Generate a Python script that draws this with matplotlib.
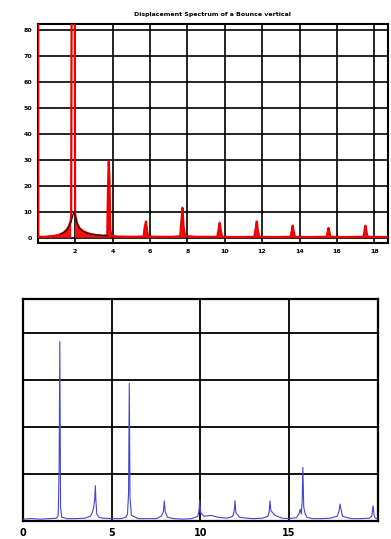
import matplotlib
matplotlib.use("Agg")
import matplotlib.pyplot as plt
import numpy as np

title_text = "Displacement Spectrum of a Bounce vertical"

# ---- top panel: red displacement spectrum ----
red_x = [0.00, 0.03, 0.35, 0.85, 1.20, 1.40, 1.55, 1.65, 1.75, 1.79, 1.90, 2.00, 2.10, 2.25,
         2.50, 2.80, 3.10, 3.50, 3.72, 3.76, 3.80, 3.84, 3.88, 3.95, 4.20, 5.00,
         5.66, 5.72, 5.79, 5.84, 5.90, 6.50, 7.20, 7.62, 7.68, 7.74, 7.80, 7.88, 8.50,
         9.60, 9.67, 9.73, 9.79, 9.86, 10.50, 11.58, 11.65, 11.71, 11.77, 11.84, 12.50,
         13.52, 13.58, 13.63, 13.69, 13.75, 14.50, 15.45, 15.50, 15.55, 15.61, 15.66, 16.50,
         17.42, 17.47, 17.52, 17.58, 17.64, 18.70]
red_y = [400, 0.3, 0.3, 0.6, 1.2, 2.0, 3.0, 4.2, 6.0, 8.0, 400, 9.0, 5.5, 3.5,
         2.2, 1.4, 1.0, 0.7, 1.0, 20.0, 29.3, 22.0, 3.0, 0.8, 0.4, 0.3,
         0.4, 4.0, 6.2, 3.0, 0.4, 0.3, 0.3, 0.5, 6.0, 11.5, 4.0, 0.6, 0.3,
         0.3, 3.0, 5.7, 2.5, 0.3, 0.2, 0.3, 3.2, 6.2, 2.8, 0.3, 0.2,
         0.3, 2.4, 4.6, 2.0, 0.3, 0.2, 0.3, 2.0, 3.7, 1.6, 0.3, 0.2,
         0.3, 2.4, 4.6, 2.0, 0.3, 0.2]

black_x = [1.20, 1.40, 1.55, 1.65, 1.75, 1.82, 1.88, 1.94, 2.00, 2.06, 2.15, 2.25,
           2.40, 2.60, 2.90, 3.20, 3.50, 3.75]
black_y = [1.3, 2.0, 2.9, 3.9, 5.4, 7.0, 8.6, 10.0, 8.4, 6.4, 4.6, 3.4,
           2.5, 1.8, 1.3, 1.0, 0.8, 0.7]

top_xticks = [2, 4, 6, 8, 10, 12, 14, 16, 18]
top_yticks = [0, 10, 20, 30, 40, 50, 60, 70, 80]

# ---- bottom panel: blue spectrum ----
blue_x = [0.0, 0.5, 1.0, 1.5, 1.9, 2.0, 2.05, 2.09, 2.13, 2.2, 2.5, 3.0, 3.5, 3.8,
          3.92, 4.00, 4.05, 4.09, 4.12, 4.17, 4.3, 4.5, 5.0, 5.5, 5.8, 5.9, 5.96, 6.0,
          6.04, 6.12, 6.5, 7.0, 7.5, 7.8, 7.92, 7.97, 8.02, 8.15, 8.5, 9.0, 9.5,
          9.85, 9.92, 9.96, 10.02, 10.2, 10.6, 11.0, 11.5, 11.82, 11.9, 11.95, 12.0,
          12.2, 12.6, 13.0, 13.5, 13.8, 13.87, 13.92, 13.97, 14.2, 14.6, 15.0, 15.4,
          15.55, 15.62, 15.68, 15.73, 15.77, 15.82, 15.9, 16.0, 16.3, 16.8, 17.3,
          17.7, 17.8, 17.86, 18.0, 18.5, 19.0, 19.5, 19.65, 19.72, 19.78, 19.85, 20.0]
blue_y = [0.04, 0.05, 0.04, 0.05, 0.06, 0.12, 1.10, 3.82, 0.30, 0.08, 0.05, 0.05, 0.06, 0.10,
          0.18, 0.30, 0.45, 0.75, 0.45, 0.15, 0.08, 0.06, 0.05, 0.05, 0.08, 0.15, 0.60, 2.93,
          0.50, 0.12, 0.05, 0.05, 0.05, 0.10, 0.20, 0.43, 0.20, 0.08, 0.05, 0.04, 0.05,
          0.10, 0.20, 0.44, 0.18, 0.10, 0.12, 0.08, 0.06, 0.10, 0.20, 0.43, 0.18,
          0.08, 0.06, 0.05, 0.06, 0.10, 0.20, 0.43, 0.22, 0.12, 0.06, 0.05, 0.07,
          0.15, 0.25, 0.15, 0.40, 1.14, 0.30, 0.15, 0.08, 0.05, 0.05, 0.06,
          0.10, 0.20, 0.36, 0.10, 0.05, 0.05, 0.06, 0.10, 0.32, 0.12, 0.06, 0.05]

bottom_xticks = [0, 5, 10, 15]
bottom_xticklabels = ["0", "5", "10", "15"]
bottom_ygrid = [1, 2, 3, 4]

W, H = 391, 539
fig = plt.figure(figsize=(W / 100, H / 100), dpi=100)

# top axes
ax1 = fig.add_axes([37.7 / W, 1 - 243.3 / H, (387.5 - 37.7) / W, (243.3 - 24.3) / H])
ax1.set_xlim(0, 18.7)
ax1.set_ylim(-2.2, 82.2)
ax1.set_xticks(top_xticks)
ax1.set_yticks(top_yticks)
ax1.set_xticklabels([str(v) for v in top_xticks], fontsize=4.5, fontweight='bold')
ax1.set_yticklabels([str(v) for v in top_yticks], fontsize=4.5, fontweight='bold')
ax1.tick_params(length=0, pad=4)
ax1.grid(True, color='black', linewidth=1.2)
ax1.set_axisbelow(True)
for s in ax1.spines.values():
    s.set_linewidth(1.5)
rx = np.array(red_x)
ry = np.array(red_y)
ax1.fill_between(rx, 0, ry, where=ry < 50, color='#ff1010', linewidth=0, zorder=2)
ax1.plot(rx, ry, color='#ee0000', linewidth=1.6, zorder=3)
ax1.plot(black_x, black_y, color='#300000', linewidth=0.9, zorder=4)
ax1.set_title(title_text, fontsize=4.5, fontweight='bold', pad=6)

# bottom axes
ax2 = fig.add_axes([22.7 / W, 1 - 521 / H, (378 - 22.7) / W, (521 - 299.3) / H])
ax2.set_xlim(0, 20)
ax2.set_ylim(0, 4.72)
ax2.set_xticks(bottom_xticks)
ax2.set_xticklabels(bottom_xticklabels, fontsize=7, fontweight='bold')
ax2.set_yticks(bottom_ygrid)
ax2.set_yticklabels([])
ax2.tick_params(length=0, pad=5)
ax2.grid(True, color='black', linewidth=1.3)
ax2.set_axisbelow(True)
for s in ax2.spines.values():
    s.set_linewidth(1.6)
ax2.plot(blue_x, blue_y, color='#4545cc', linewidth=0.8, zorder=3)

fig.savefig("out.png", dpi=100)
